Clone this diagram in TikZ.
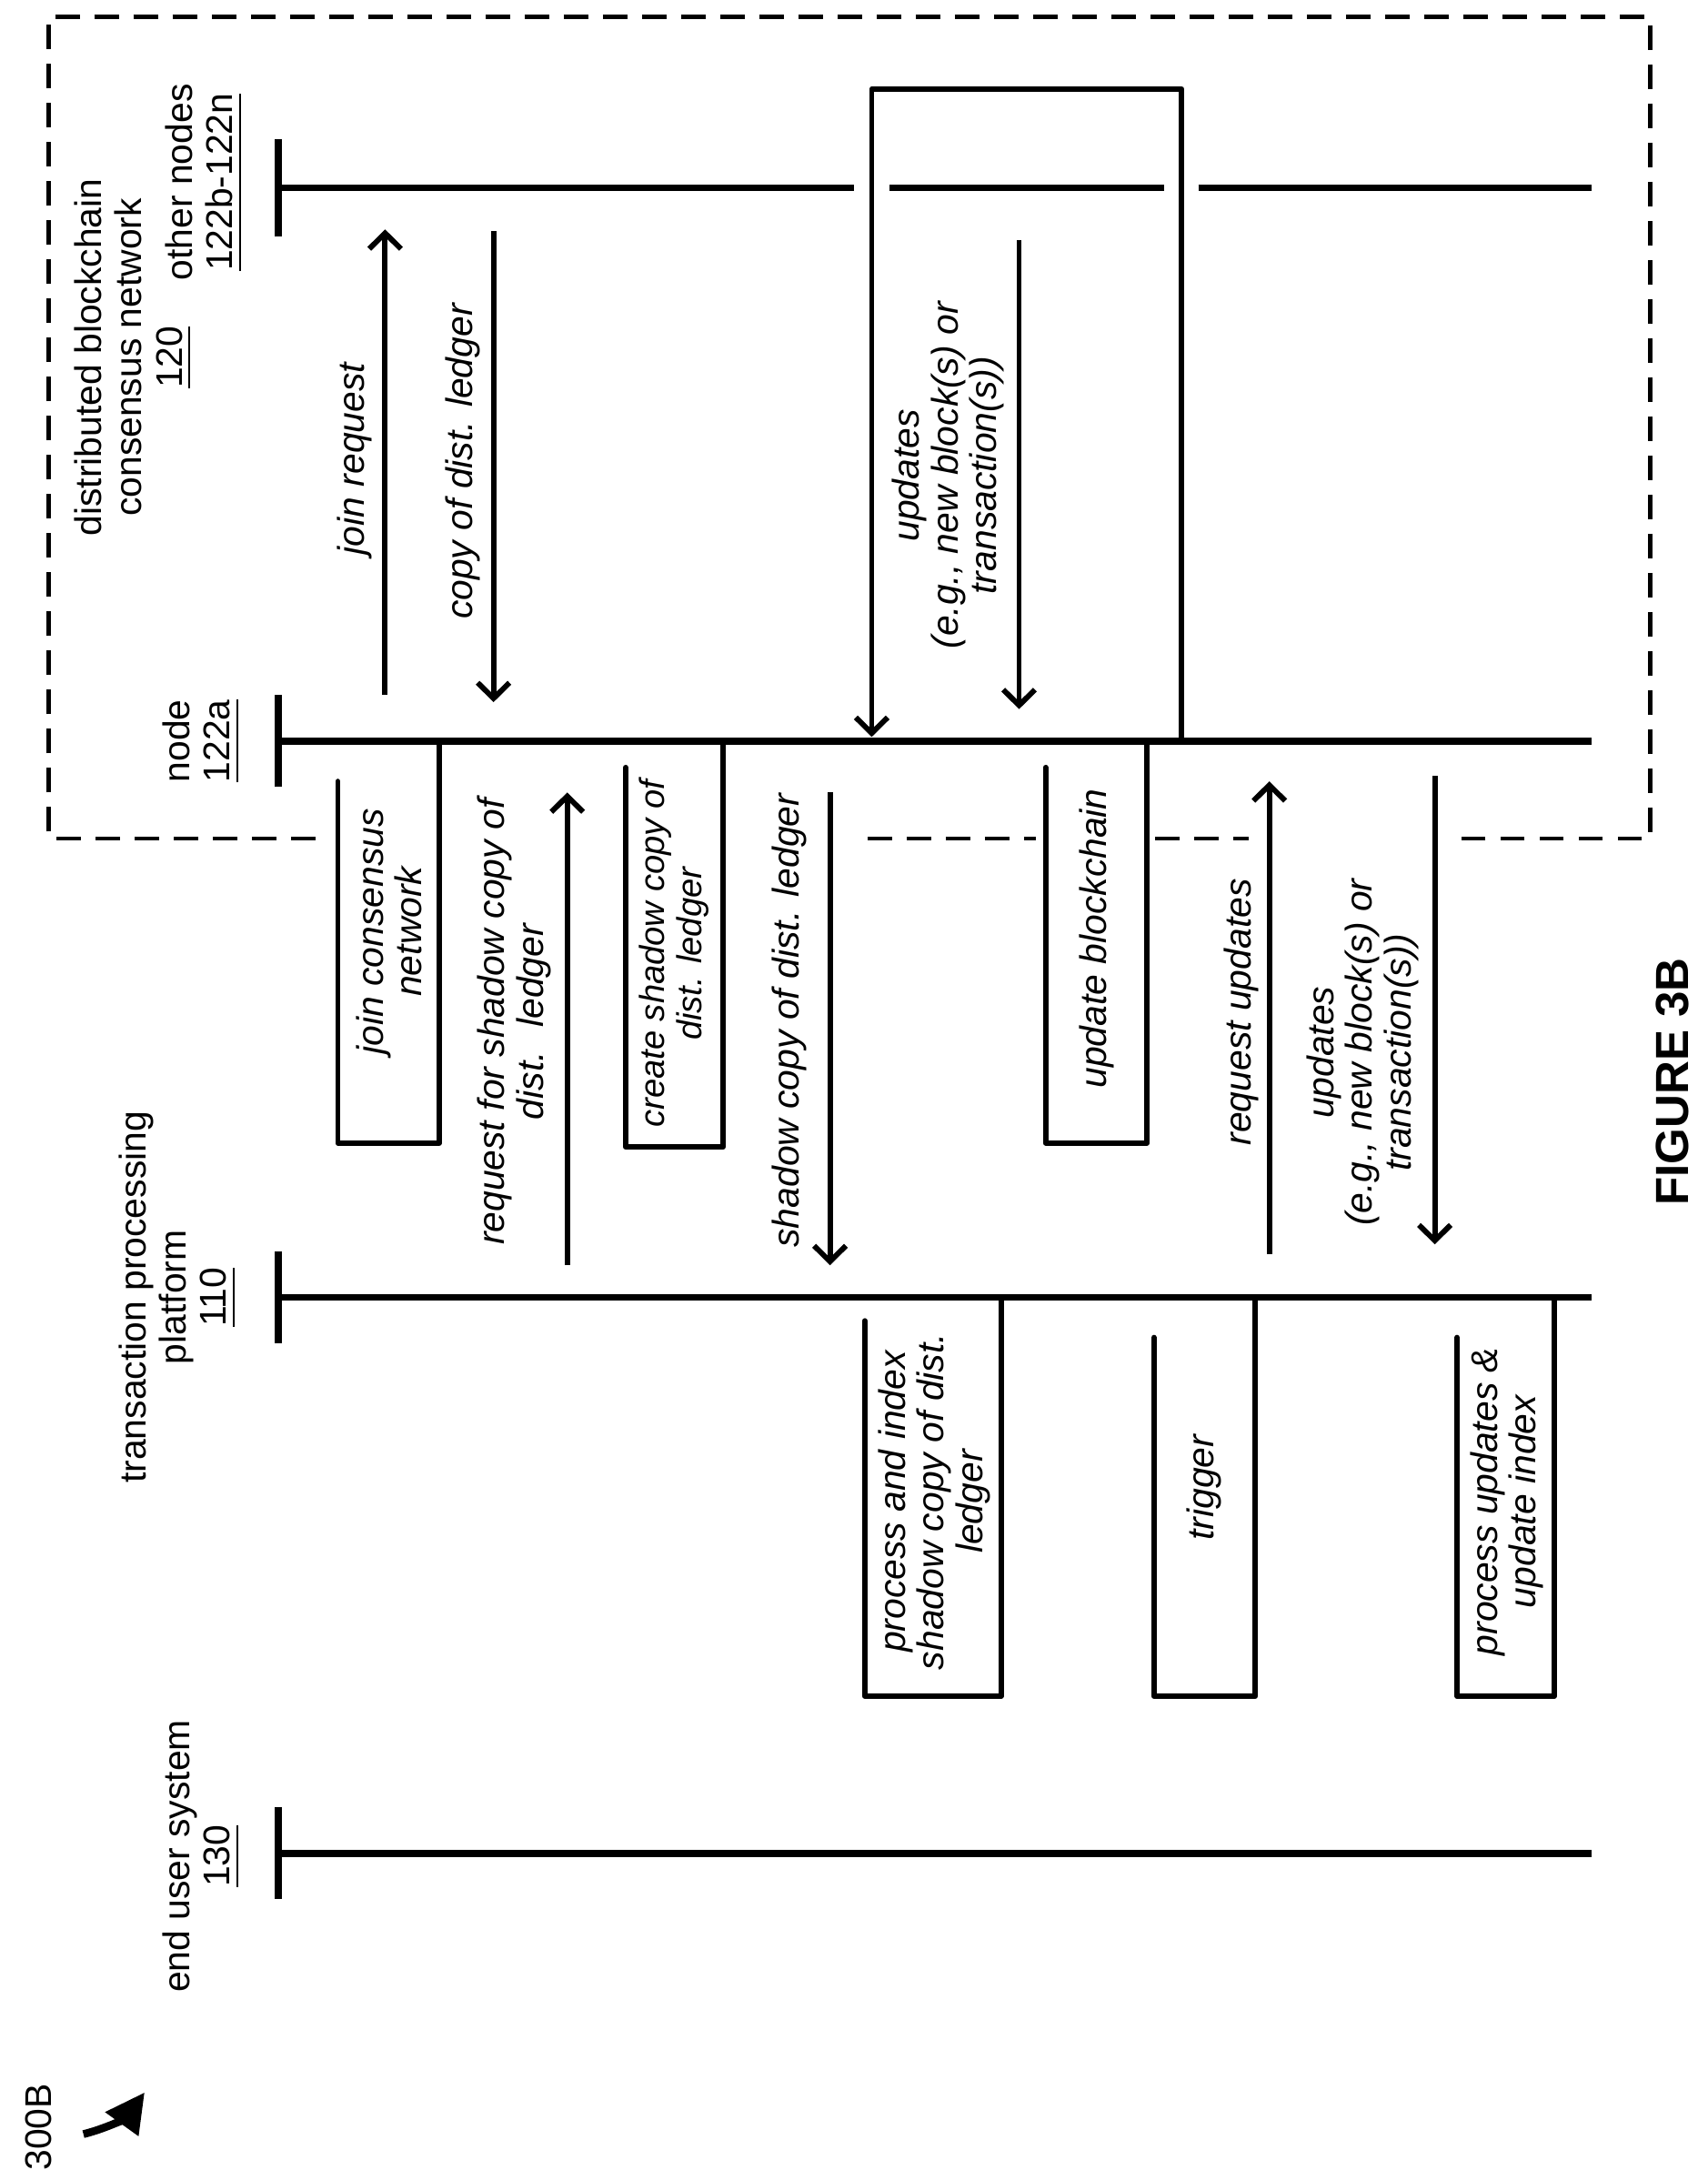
\documentclass[tikz,border=0pt]{standalone}
\usepackage{fontspec}
\setmainfont{Liberation Sans}
\usetikzlibrary{arrows.meta}
\begin{document}
\begin{tikzpicture}[x=0.01cm,y=-0.01cm,
  life/.style={line width=1.4pt},
  box/.style={line width=1.1pt,line cap=round,line join=round},
  msg/.style={line width=1.1pt,-{Straight Barb[length=3.2pt,width=6.5pt,line width=1.1pt]}},
  lbl/.style={rotate=90,align=center,font=\fontsize{7.6}{7.9}\selectfont\itshape,inner sep=0pt},
  head/.style={rotate=90,align=center,font=\fontsize{7.6}{8.2}\selectfont,inner sep=0pt},
  dsh/.style={line width=0.8pt,dash pattern=on 5pt off 3pt}]
\useasboundingbox (0,0) rectangle (1228,1568);
% dashed network box
\draw[dsh] (227,603) -- (35,603) -- (35,12) -- (1187,12) -- (1187,603) -- (1047,603);
\draw[dsh] (624,603) -- (745,603);
\draw[dsh] (831,603) -- (898,603);
% lifelines
\draw[life] (200,100) -- (200,170);
\draw[life] (200,135) -- (614,135) (640,135) -- (837,135) (862,135) -- (1145,135);
\foreach \y in {533,933,1333}{
  \draw[life] (200,\y-33) -- (200,\y+33);
  \draw[life] (200,\y) -- (1145,\y);}
% headers
\node[head] (h1) at (147,131) {other nodes\\\underline{122b-122n}};
\node[head] (h2) at (96,257) {distributed blockchain\\consensus network\\\underline{120}};
\node[head] (h3) at (145,533) {node\\\underline{122a}};
\node[head] (h4) at (128,933) {transaction processing\\platform\\\underline{110}};
\node[head] (h5) at (145,1335) {end user system\\\underline{130}};
% activation boxes
\draw[box] (243,562) -- (243,822) -- (316,822) -- (316,533);
\node[lbl] (b1) at (280,670) {join consensus\\network};
\draw[box] (450,552) -- (450,825) -- (520,825) -- (520,533);
\node[lbl,font=\fontsize{7.1}{7.6}\selectfont\itshape] (b2) at (485,686) {create shadow copy of\\dist. ledger};
\draw[box] (752,552) -- (752,822) -- (825,822) -- (825,533);
\node[lbl] (b3) at (789,675) {update blockchain};
\draw[box] (622,950) -- (622,1220) -- (720,1220) -- (720,933);
\node[lbl] (b4) at (672,1080) {process and index\\shadow copy of dist.\\ledger};
\draw[box] (830,962) -- (830,1220) -- (903,1220) -- (903,933);
\node[lbl] (b5) at (866,1070) {trigger};
\draw[box] (1048,962) -- (1048,1220) -- (1118,1220) -- (1118,933);
\node[lbl] (b6) at (1084,1080) {process updates \&\\update index};
% updates frame
\draw[box] (850,533) -- (850,64) -- (627,64) -- (627,100);
\coordinate (ua) at (627,100); \coordinate (ub) at (627,530);
\draw[msg] (ua) -- (ub);
% messages
\coordinate (m1a) at (277,500); \coordinate (m1b) at (277,165);
\draw[msg] (m1a) -- (m1b);
\node[lbl] (l1) at (255,330) {join request};
\coordinate (m2a) at (355,166); \coordinate (m2b) at (355,505);
\draw[msg] (m2a) -- (m2b);
\node[lbl] (l2) at (333,332) {copy of dist. ledger};
\coordinate (m3a) at (408,910); \coordinate (m3b) at (408,570);
\draw[msg] (m3a) -- (m3b);
\node[lbl] (l3) at (370,735) {request for shadow copy of\\dist.~ ledger};
\coordinate (m4a) at (597,570); \coordinate (m4b) at (597,910);
\draw[msg] (m4a) -- (m4b);
\node[lbl] (l4) at (568,734) {shadow copy of dist. ledger};
\coordinate (m5a) at (733,173); \coordinate (m5b) at (733,510);
\draw[msg] (m5a) -- (m5b);
\node[lbl] (l5) at (682,342) {updates\\(e.g., new block(s) or\\transaction(s))};
\coordinate (m6a) at (913,902); \coordinate (m6b) at (913,562);
\draw[msg] (m6a) -- (m6b);
\node[lbl] (l6) at (893,728) {request updates};
\coordinate (m7a) at (1032,558); \coordinate (m7b) at (1032,895);
\draw[msg] (m7a) -- (m7b);
\node[lbl] (l7) at (980,757) {updates\\(e.g., new block(s) or\\transaction(s))};
% figure label
\node[head,font=\fontsize{9.5}{10}\selectfont\bfseries] (fig) at (1203,778) {FIGURE 3B};
\node[head] (ref) at (28,1530) {300B};
\coordinate (ra) at (60,1535); \coordinate (rb) at (104,1505);
\draw[line width=1.6pt,-{Triangle[length=8pt,width=8pt]}] (ra) to[bend right=20] (rb);
\end{tikzpicture}
\end{document}
